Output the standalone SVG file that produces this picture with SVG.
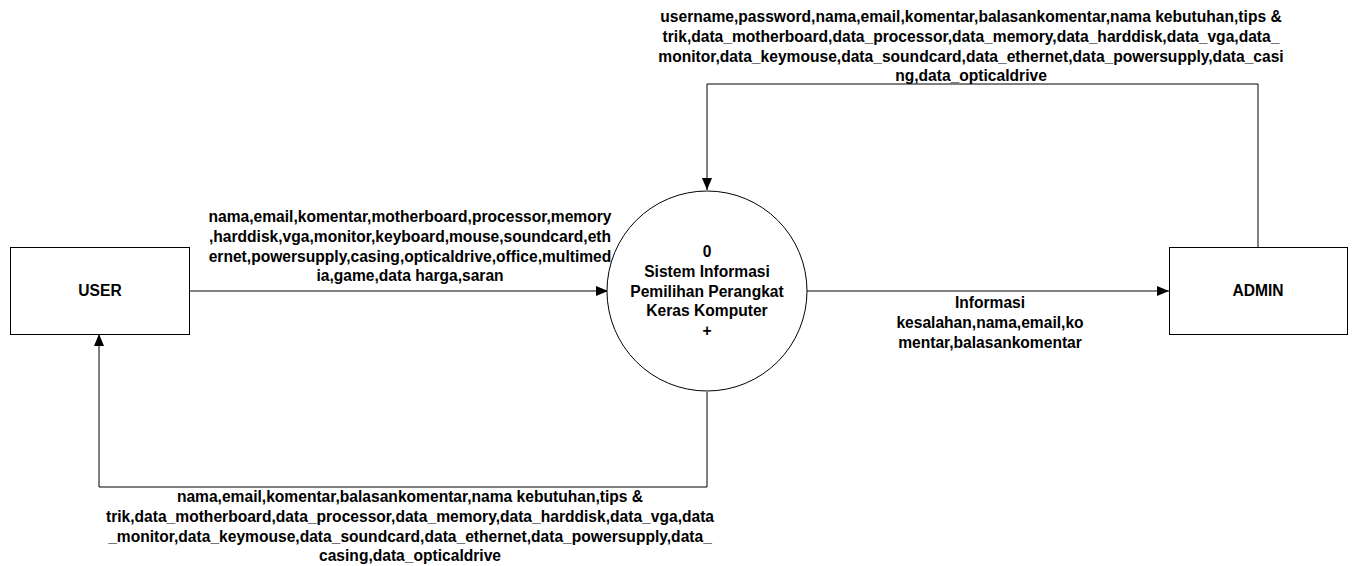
<svg xmlns="http://www.w3.org/2000/svg" width="1354" height="566" viewBox="0 0 1354 566">
<style>
.box{fill:#fff;stroke:#000;stroke-width:1}
.line{fill:none;stroke:#000;stroke-width:1}
text{font-family:"Liberation Sans",Arial,sans-serif;font-weight:bold;font-size:15.6px;fill:#000;text-anchor:middle}
</style>
<defs>
<marker id="arr" viewBox="0 0 12 10" refX="12" refY="5" markerWidth="12" markerHeight="10" markerUnits="userSpaceOnUse" orient="auto">
<path d="M0,0 L12,5 L0,10 Z" fill="#000"/>
</marker>
</defs>
<g id="connectors">
<path class="line" d="M189,291 H608" marker-end="url(#arr)"/>
<path class="line" d="M806,291 H1169" marker-end="url(#arr)"/>
<path class="line" d="M1258,247 V84 H707 V190" marker-end="url(#arr)"/>
<path class="line" d="M707,392 V487 H99 V334" marker-end="url(#arr)"/>
<g id="label-user-in">
<text x="410" y="222">nama,email,komentar,motherboard,processor,memory</text>
<text x="410" y="242">,harddisk,vga,monitor,keyboard,mouse,soundcard,eth</text>
<text x="410" y="261.5">ernet,powersupply,casing,opticaldrive,office,multimed</text>
<text x="410" y="281">ia,game,data harga,saran</text>
</g>
<g id="label-admin-out">
<text x="990" y="308">Informasi</text>
<text x="990" y="328">kesalahan,nama,email,ko</text>
<text x="990" y="347.5">mentar,balasankomentar</text>
</g>
<g id="label-admin-in">
<text x="971" y="22">username,password,nama,email,komentar,balasankomentar,nama kebutuhan,tips &amp;</text>
<text x="971" y="42">trik,data_motherboard,data_processor,data_memory,data_harddisk,data_vga,data_</text>
<text x="971" y="61.5">monitor,data_keymouse,data_soundcard,data_ethernet,data_powersupply,data_casi</text>
<text x="971" y="81">ng,data_opticaldrive</text>
</g>
<g id="label-user-out">
<text x="410" y="502">nama,email,komentar,balasankomentar,nama kebutuhan,tips &amp;</text>
<text x="410" y="522">trik,data_motherboard,data_processor,data_memory,data_harddisk,data_vga,data</text>
<text x="410" y="541.5">_monitor,data_keymouse,data_soundcard,data_ethernet,data_powersupply,data_</text>
<text x="410" y="561">casing,data_opticaldrive</text>
</g>
</g>
<g id="user">
<rect class="box" x="10.5" y="247.5" width="179" height="87"/>
<text x="100" y="296">USER</text>
</g>
<g id="process">
<circle class="box" cx="707" cy="291" r="100"/>
<text x="707" y="257">0</text>
<text x="707" y="277">Sistem Informasi</text>
<text x="707" y="296.5">Pemilihan Perangkat</text>
<text x="707" y="316">Keras Komputer</text>
<text x="707" y="336">+</text>
</g>
<g id="admin">
<rect class="box" x="1169.5" y="247.5" width="178" height="87"/>
<text x="1258" y="296">ADMIN</text>
</g>
</svg>
